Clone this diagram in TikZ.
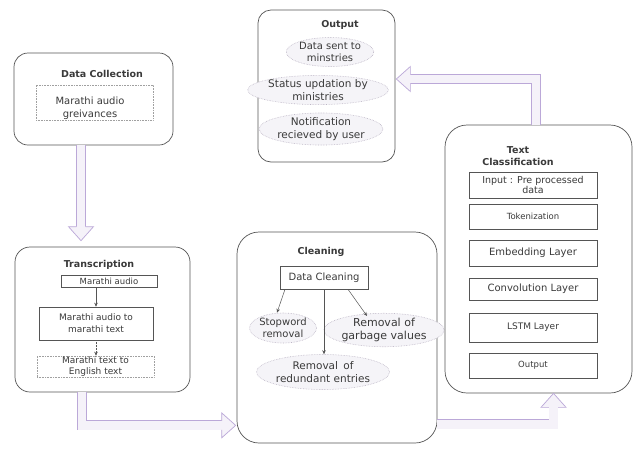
\documentclass[tikz,border=0pt]{standalone}
\usepackage{fontspec}
\setmainfont{DejaVu Sans}
\usetikzlibrary{calc,shapes.geometric,arrows.meta}
\definecolor{lav}{HTML}{BBA8D8}
\definecolor{lavfill}{HTML}{F5F2F9}
\definecolor{boxline}{HTML}{555555}
\definecolor{txt}{HTML}{3A3A3A}
\definecolor{dotline}{HTML}{A0A0A0}
\definecolor{ellline}{HTML}{BDB6C6}
\definecolor{ellfill}{HTML}{F5F4F8}
\begin{document}
\begin{tikzpicture}[x=1pt,y=-1pt,
 font=\fontsize{10}{12.5}\selectfont, text=txt,
 bigbox/.style={draw=boxline, line width=0.7pt, rounded corners=15pt, inner sep=0pt},
 ttl/.style={font=\fontsize{9.5}{12}\selectfont\bfseries, align=center, inner sep=0pt},
 sub/.style={draw=boxline, line width=0.6pt, inner sep=0pt, align=center},
 dsub/.style={draw=dotline, densely dotted, line width=0.6pt, inner sep=0pt, align=center},
 ell/.style={ellipse, draw=ellline, fill=ellfill, densely dotted, line width=0.6pt, inner sep=0pt, align=center},
 lbl/.style={inner sep=0pt, align=center},
 arr/.style={-{Stealth[length=4pt,width=3.5pt]}, draw=boxline, line width=0.5pt},
 hshaft/.style={draw=lav, line width=0.7pt, double=lavfill, double distance=8.5pt},
 hhead/.pic={\filldraw[draw=lav, fill=lavfill, line width=0.7pt, line join=miter] (-4.6,-14) -- (-12.5,-14) -- (0,0) -- (12.5,-14) -- (4.6,-14);}
]
\useasboundingbox[fill=white] (0,0) rectangle (634,448);

% Data Collection
\node[bigbox, rounded corners=14pt, minimum width=159pt, minimum height=92pt] (dc) at (93.5,99) {};
\node[ttl] (dct) at (102,74) {Data Collection};
\node[dsub, minimum width=117pt, minimum height=35pt] (dci) at (94.5,102.5) {};
\node[lbl] (dctx) at (90,108) {Marathi audio\\greivances};

% Transcription
\node[bigbox, minimum width=175pt, minimum height=145pt] (tr) at (102.5,319.5) {};
\node[ttl] (trt) at (99,265) {Transcription};
\node[sub, minimum width=96pt, minimum height=12pt, font=\fontsize{8.5}{10}\selectfont] (tb1) at (109,281) {Marathi audio};
\node[sub, minimum width=114pt, minimum height=33pt, font=\fontsize{9}{12}\selectfont] (tb2) at (96,323.5) {Marathi audio to\\marathi text};
\node[dsub, minimum width=117pt, minimum height=21pt, font=\fontsize{9}{11}\selectfont] (tb3) at (95.5,366.5) {Marathi text to\\English text};
\draw[arr] (tb2.north |- tb1.south) -- (tb2.north);
\draw[arr, densely dotted] (tb2.south) -- (tb2.south |- tb3.north);

% Cleaning
\node[bigbox, rounded corners=22pt, minimum width=200pt, minimum height=211pt] (cl) at (337,337.5) {};
\node[ttl] (clt) at (321,252) {Cleaning};
\node[sub, minimum width=88pt, minimum height=23pt] (dcb) at (324,277.5) {Data Cleaning};
\node[ell, minimum width=61pt, minimum height=30pt, font=\fontsize{10}{12}\selectfont] (e1) at (283,328) {Stopword\\removal};
\node[ell, minimum width=108pt, minimum height=30pt, font=\fontsize{11}{13}\selectfont] (e2) at (384,330) {Removal of\\garbage values};
\node[ell, minimum width=107pt, minimum height=35pt, font=\fontsize{10.5}{13}\selectfont] (e3) at (323,372) {Removal\enspace of\\redundant entries};
\draw[arr] ([xshift=-39pt]dcb.south) -- ([xshift=-6pt]e1.north);
\draw[arr] (dcb.south) -- (dcb.south |- e3.north);
\draw[arr] ([xshift=24pt]dcb.south) -- ([xshift=-17pt,yshift=-3pt]e2.north);

% Text Classification
\node[bigbox, rounded corners=22pt, minimum width=187pt, minimum height=268pt] (tc) at (538.5,259) {};
\node[ttl] (tct) at (518,156) {Text\\Classification};
\node[sub, minimum width=128pt, minimum height=26pt, font=\fontsize{9.5}{10}\selectfont] (c1) at (533,185) {Input : Pre processed\\data};
\node[sub, minimum width=128pt, minimum height=25pt, font=\fontsize{8.5}{10}\selectfont] (c2) at (533,216.5) {Tokenization};
\node[sub, minimum width=128pt, minimum height=26pt, font=\fontsize{10}{12}\selectfont] (c3) at (533,253) {Embedding Layer};
\node[sub, minimum width=128pt, minimum height=22pt, font=\fontsize{10}{12}\selectfont] (c4) at (533,289) {Convolution Layer};
\node[sub, minimum width=128pt, minimum height=29pt, font=\fontsize{9}{12}\selectfont] (c5) at (533,327.5) {LSTM Layer};
\node[sub, minimum width=128pt, minimum height=25pt, font=\fontsize{8.5}{10}\selectfont] (c6) at (533,365.5) {Output};

% Output
\node[bigbox, rounded corners=13pt, minimum width=137pt, minimum height=152pt] (ob) at (326.5,86) {};
\node[ttl] (obt) at (340,25) {Output};
\node[ell, minimum width=84pt, minimum height=29pt] (o1) at (330,52) {Data sent to\\minstries};
\node[ell, minimum width=110pt, minimum height=27pt, font=\fontsize{10.5}{12.5}\selectfont] (o2) at (318,90) {Status updation by\\ministries};
\node[ell, minimum width=102pt, minimum height=32pt, font=\fontsize{10.5}{12.5}\selectfont] (o3) at (321,129) {Notification\\recieved by user};

% Hollow arrows
\coordinate (t1) at ([xshift=-21.5pt,yshift=6pt]tr.north);
\draw[hshaft] ([xshift=-12.5pt]dc.south) -- ($(t1)+(0,-13.5)$);
\pic at (t1) {hhead};

\coordinate (t2) at ($(cl.south west)+(-1,-18)$);
\draw[hshaft] ([xshift=-20.5pt]tr.south) |- ($(t2)+(-13.5,0)$);
\pic[rotate=90] at (t2) {hhead};

\coordinate (t3) at ([xshift=15pt]tc.south);
\draw[hshaft] ($(cl.south east)+(0,-19)$) -| ($(t3)+(0,13.5)$);
\pic[rotate=180] at (t3) {hhead};

\coordinate (t4) at ($(ob.east)+(1,-7)$);
\draw[hshaft] ([xshift=-2.5pt]tc.north) |- ($(t4)+(13.5,0)$);
\pic[rotate=-90] at (t4) {hhead};
\end{tikzpicture}
\end{document}
